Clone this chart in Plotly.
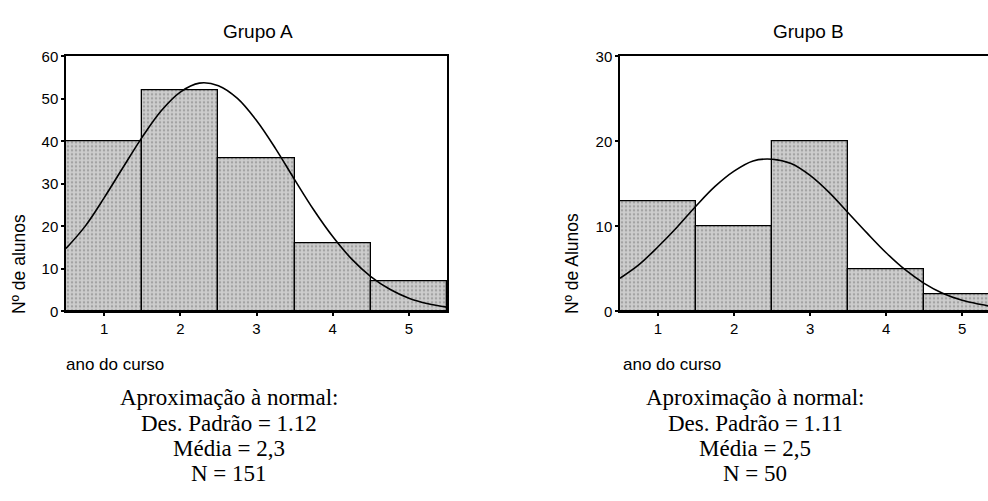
import plotly.graph_objects as go

# ---- data ----
anos = [1, 2, 3, 4, 5]
tick_labels = ["1", "2", "3", "4", "5"]
contagem_a = [40, 52, 36, 16, 7]
contagem_b = [13, 10, 20, 5, 2]

# normal-approximation curves
curva_x = [0.5, 0.75, 1.0, 1.25, 1.5, 1.75, 2.0, 2.25, 2.5, 2.75, 3.0, 3.25,
           3.5, 3.75, 4.0, 4.25, 4.5, 4.75, 5.0, 5.25, 5.5]
curva_a = [14.8, 20.0, 26.7, 33.9, 41.0, 47.2, 51.6, 53.7, 53.1, 50.1, 44.9, 38.3,
           31.0, 23.9, 17.6, 12.3, 8.2, 5.2, 3.1, 1.8, 1.0]
curva_b = [3.9, 5.5, 7.6, 9.9, 12.4, 14.7, 16.5, 17.7, 17.9, 17.4, 16.0, 14.0,
           11.6, 9.2, 6.9, 4.9, 3.3, 2.1, 1.3, 0.8, 0.4]

titulo_a = "Grupo A"
titulo_b = "Grupo B"
ytitulo_a = "Nº de alunos"
ytitulo_b = "Nº de Alunos"
xtitulo = "ano do curso"
stats_a = ["Aproximação à normal:", "Des. Padrão = 1.12", "Média = 2,3", "N = 151"]
stats_b = ["Aproximação à normal:", "Des. Padrão = 1.11", "Média = 2,5", "N = 50"]

W, H = 988, 501
def px(x):
    return x / W
def py(y):
    return 1 - y / H

bar_style = dict(
    marker=dict(
        color="#bcbcbc",
        line=dict(color="black", width=1.3),
        pattern=dict(shape=".", size=4, solidity=0.3,
                     fgcolor="#777777", bgcolor="#cdcdcd"),
    ),
    width=1.0,
    showlegend=False,
    hoverinfo="skip",
)

fig = go.Figure()
fig.add_trace(go.Bar(x=anos, y=contagem_a, xaxis="x", yaxis="y", **bar_style))
fig.add_trace(go.Scatter(x=curva_x, y=curva_a, mode="lines", xaxis="x", yaxis="y",
                         line=dict(color="black", width=1.6, shape="spline"),
                         showlegend=False, hoverinfo="skip"))
fig.add_trace(go.Bar(x=anos, y=contagem_b, xaxis="x2", yaxis="y2", **bar_style))
fig.add_trace(go.Scatter(x=curva_x, y=curva_b, mode="lines", xaxis="x2", yaxis="y2",
                         line=dict(color="black", width=1.6, shape="spline"),
                         showlegend=False, hoverinfo="skip"))

tickfont = dict(family="Liberation Sans, Arial, sans-serif", size=15, color="black")
common_x = dict(tickmode="array", tickvals=anos, ticktext=tick_labels,
                ticks="outside", ticklen=3, tickwidth=1.5, tickcolor="black",
                showline=True, linecolor="black", linewidth=1.5,
                showgrid=False, zeroline=False, tickfont=tickfont, fixedrange=True)
common_y = dict(ticks="outside", ticklen=3, tickwidth=1.5, tickcolor="black",
                showline=True, linecolor="black", linewidth=1.5, dtick=10,
                showgrid=False, zeroline=False, tickfont=tickfont, fixedrange=True)

fig.update_layout(
    width=W, height=H,
    margin=dict(l=0, r=0, t=0, b=0),
    paper_bgcolor="white", plot_bgcolor="white",
    bargap=0,
    xaxis=dict(domain=[px(66), px(447)], range=[0.5, 5.5], anchor="y",
               mirror=True, **common_x),
    yaxis=dict(domain=[py(313), py(49)], range=[0, 60], anchor="x",
               mirror=True, **common_y),
    xaxis2=dict(domain=[px(620), 1.0], range=[0.5, 5.34], anchor="y2",
                mirror=True, **common_x),
    yaxis2=dict(domain=[py(313), py(49)], range=[0, 30], anchor="x2",
                mirror=False, **common_y),
)

sans = "Liberation Sans, Arial, sans-serif"
serif = "Liberation Serif, Times New Roman, serif"
ann = []
ann.append(dict(text=titulo_a, x=px(258), y=py(23), font=dict(family=sans, size=19)))
ann.append(dict(text=titulo_b, x=px(808), y=py(23), font=dict(family=sans, size=19)))
ann.append(dict(text=ytitulo_a, x=px(19), y=py(264), textangle=-90,
                font=dict(family=sans, size=17.5)))
ann.append(dict(text=ytitulo_b, x=px(572), y=py(264), textangle=-90,
                font=dict(family=sans, size=17.5)))
ann.append(dict(text=xtitulo, x=px(64), y=py(368), xanchor="left",
                font=dict(family=sans, size=17)))
ann.append(dict(text=xtitulo, x=px(621), y=py(368), xanchor="left",
                font=dict(family=sans, size=17)))
line_y = [402, 429, 455, 481]
for i, (ta, tb) in enumerate(zip(stats_a, stats_b)):
    ann.append(dict(text=ta, x=px(229), y=py(line_y[i]), font=dict(family=serif, size=23)))
    ann.append(dict(text=tb, x=px(755), y=py(line_y[i]), font=dict(family=serif, size=23)))

for a in ann:
    a.update(xref="paper", yref="paper", showarrow=False,
             xanchor=a.get("xanchor", "center"), yanchor="middle")
    a["font"]["color"] = "black"
fig.update_layout(annotations=ann)

fig.write_html("out.html")
